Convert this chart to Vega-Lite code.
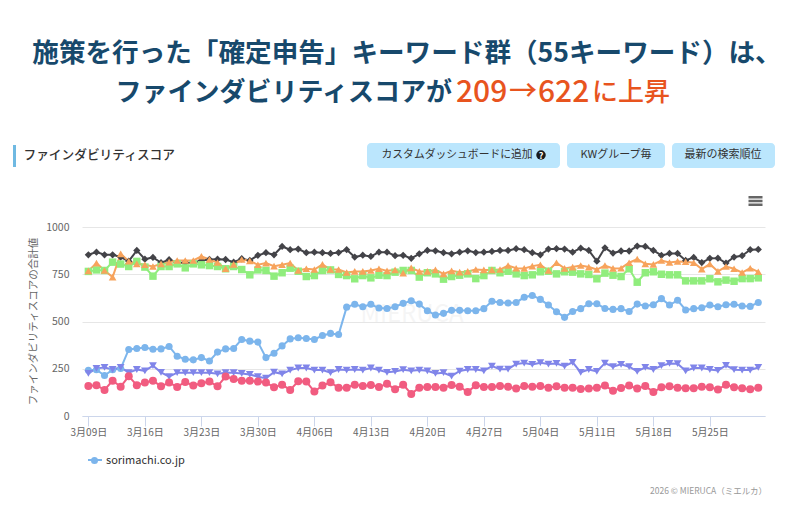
{"$schema":"https://vega.github.io/schema/vega-lite/v6.json","width":683,"height":189,"autosize":{"type":"none"},"padding":{"left":82,"top":227,"right":35,"bottom":94},"background":"white","config":{"font":"Noto Sans CJK JP","view":{"stroke":null}},
"layer":[
{"data":{"values":[{"t":"施策を行った「確定申告」キーワード群（55キーワード）は、"}]},"mark":{"type":"text","x":325,"y":-173,"align":"center","baseline":"middle","fontSize":26.6,"fontWeight":700,"color":"#17496c"},"encoding":{"text":{"field":"t"}}},
{"data":{"values":[{"t":"ファインダビリティスコアが"}]},"mark":{"type":"text","x":33.5,"y":-134,"align":"left","baseline":"middle","fontSize":26,"fontWeight":700,"color":"#17496c"},"encoding":{"text":{"field":"t"}}},
{"data":{"values":[{"t":"209"}]},"mark":{"type":"text","x":374,"y":-134,"align":"left","baseline":"middle","fontSize":30,"fontWeight":500,"color":"#e8541e"},"encoding":{"text":{"field":"t"}}},
{"data":{"values":[{"t":"→"}]},"mark":{"type":"text","x":427,"y":-134,"align":"left","baseline":"middle","fontSize":28,"fontWeight":500,"color":"#e8541e"},"encoding":{"text":{"field":"t"}}},
{"data":{"values":[{"t":"622"}]},"mark":{"type":"text","x":456,"y":-134,"align":"left","baseline":"middle","fontSize":30,"fontWeight":500,"color":"#e8541e"},"encoding":{"text":{"field":"t"}}},
{"data":{"values":[{"t":"に上昇"}]},"mark":{"type":"text","x":510,"y":-134,"align":"left","baseline":"middle","fontSize":26,"fontWeight":500,"color":"#e8541e"},"encoding":{"text":{"field":"t"}}},
{"data":{"values":[{"t":"header"}]},"mark":{"type":"rect","color":"#6fb9e2"},"encoding":{"x":{"value":-69},"x2":{"value":-66},"y":{"value":-82},"y2":{"value":-60}}},
{"data":{"values":[{"t":"ファインダビリティスコア"}]},"mark":{"type":"text","x":-58.5,"y":-72,"align":"left","baseline":"middle","fontSize":12.7,"fontWeight":500,"color":"#333333"},"encoding":{"text":{"field":"t"}}},
{"data":{"values":[{"t":"b1"}]},"mark":{"type":"rect","color":"#bbe6fd","cornerRadius":4},"encoding":{"x":{"value":285},"x2":{"value":478},"y":{"value":-84},"y2":{"value":-59}}},
{"data":{"values":[{"t":"b2"}]},"mark":{"type":"rect","color":"#bbe6fd","cornerRadius":4},"encoding":{"x":{"value":485},"x2":{"value":583},"y":{"value":-84},"y2":{"value":-59}}},
{"data":{"values":[{"t":"b3"}]},"mark":{"type":"rect","color":"#bbe6fd","cornerRadius":4},"encoding":{"x":{"value":590},"x2":{"value":693},"y":{"value":-84},"y2":{"value":-59}}},
{"data":{"values":[{"t":"カスタムダッシュボードに追加"}]},"mark":{"type":"text","x":299.5,"y":-72,"align":"left","baseline":"middle","fontSize":10.8,"color":"#333333"},"encoding":{"text":{"field":"t"}}},
{"data":{"values":[{"t":"icon"}]},"mark":{"type":"point","filled":true,"shape":"circle","size":90,"x":459,"y":-72,"color":"#1a1a1a","opacity":1},"encoding":{}},
{"data":{"values":[{"t":"?"}]},"mark":{"type":"text","x":459,"y":-71.5,"align":"center","baseline":"middle","fontSize":9,"fontWeight":700,"color":"#ffffff"},"encoding":{"text":{"field":"t"}}},
{"data":{"values":[{"t":"KWグループ毎"}]},"mark":{"type":"text","x":534,"y":-72,"align":"center","baseline":"middle","fontSize":11,"color":"#333333"},"encoding":{"text":{"field":"t"}}},
{"data":{"values":[{"t":"最新の検索順位"}]},"mark":{"type":"text","x":641,"y":-72,"align":"center","baseline":"middle","fontSize":11,"color":"#333333"},"encoding":{"text":{"field":"t"}}},
{"data":{"values":[{"t":"menu"}]},"mark":{"type":"point","filled":true,"opacity":1,"color":"#666666","shape":"M-1,-0.72H1V-0.36H-1Z M-1,-0.18H1V0.18H-1Z M-1,0.36H1V0.72H-1Z","size":196,"x":673.5,"y":-26},"encoding":{}},
{"data":{"values":[{"t":"MIERUCA"}]},"mark":{"type":"text","x":330,"y":88,"align":"center","baseline":"middle","fontSize":24,"color":"#000000","opacity":0.035},"encoding":{"text":{"field":"t"}}},
{"data":{"values":[{"t":"2026 © MIERUCA（ミエルカ）"}]},"mark":{"type":"text","x":685,"y":264,"align":"right","baseline":"middle","fontSize":8.5,"color":"#999999"},"encoding":{"text":{"field":"t"}}},
{"data":{"values":[{"t":"legend line"}]},"mark":{"type":"rect","color":"#7cb5ec"},"encoding":{"x":{"value":6},"x2":{"value":20},"y":{"value":232},"y2":{"value":234}}},
{"data":{"name":"scores"},"mark":{"type":"line","strokeWidth":2,"clip":false},"encoding":{"x":{"field":"d","type":"temporal","scale":{"domain":["2025/03/08 05:00","2025/05/31 20:00"]},"axis":{"title":null,"values":["2025/03/09","2025/03/16","2025/03/23","2025/03/30","2025/04/06","2025/04/13","2025/04/20","2025/04/27","2025/05/04","2025/05/11","2025/05/18","2025/05/25"],"format":"%-m月%d日","grid":false,"domainColor":"#ccd6eb","tickColor":"#ccd6eb","tickSize":10,"labelColor":"#666666","labelFontSize":10,"labelPadding":1,"labelFlush":false,"labelOverlap":false}},"y":{"field":"v","type":"quantitative","scale":{"domain":[0,1000],"nice":false},"axis":{"title":"ファインダビリティスコアの合計値","titleFontSize":10.5,"titleFontWeight":400,"titleColor":"#666666","titleX":-44,"titleY":94,"values":[0,250,500,750,1000],"format":"d","gridColor":"#e6e6e6","domain":false,"ticks":false,"labelColor":"#666666","labelFontSize":10.5,"labelPadding":13}},"color":{"field":"s","type":"nominal","scale":{"domain":["sorimachi.co.jp","b","c","d","e","f"],"range":["#7cb5ec","#434348","#90ed7d","#f7a35c","#8085e9","#f15c80"]},"legend":{"values":["sorimachi.co.jp"],"title":null,"orient":"none","legendX":7,"legendY":228,"symbolSize":196,"symbolStrokeWidth":0,"labelFontSize":11,"labelOffset":6,"labelColor":"#333333","labelFontWeight":400,"symbolOpacity":1,"encode":{"symbols":{"update":{"shape":{"value":"M-0.5,0A0.5,0.5 0 1,1 0.5,0A0.5,0.5 0 1,1 -0.5,0Z"}}}}}}}},
{"data":{"name":"scores"},"mark":{"type":"point","filled":true,"opacity":1,"strokeWidth":0,"clip":false},"encoding":{"x":{"field":"d","type":"temporal"},"y":{"field":"v","type":"quantitative"},"color":{"field":"s","type":"nominal"},"size":{"field":"s","type":"nominal","scale":{"domain":["sorimachi.co.jp","b","c","d","e","f"],"range":[50,64,52,64,64,50]},"legend":null},"shape":{"field":"s","type":"nominal","scale":{"domain":["sorimachi.co.jp","b","c","d","e","f"],"range":["circle","diamond","square","triangle-up","triangle-down","circle"]},"legend":null}}}
],
"datasets":{"scores":[
{"d":"2025/03/09","s":"sorimachi.co.jp","v":242},{"d":"2025/03/10","s":"sorimachi.co.jp","v":245},{"d":"2025/03/11","s":"sorimachi.co.jp","v":214},{"d":"2025/03/12","s":"sorimachi.co.jp","v":245},{"d":"2025/03/13","s":"sorimachi.co.jp","v":251},{"d":"2025/03/14","s":"sorimachi.co.jp","v":352},{"d":"2025/03/15","s":"sorimachi.co.jp","v":357},{"d":"2025/03/16","s":"sorimachi.co.jp","v":362},{"d":"2025/03/17","s":"sorimachi.co.jp","v":353},{"d":"2025/03/18","s":"sorimachi.co.jp","v":355},{"d":"2025/03/19","s":"sorimachi.co.jp","v":368},{"d":"2025/03/20","s":"sorimachi.co.jp","v":316},{"d":"2025/03/21","s":"sorimachi.co.jp","v":300},{"d":"2025/03/22","s":"sorimachi.co.jp","v":297},{"d":"2025/03/23","s":"sorimachi.co.jp","v":309},{"d":"2025/03/24","s":"sorimachi.co.jp","v":291},{"d":"2025/03/25","s":"sorimachi.co.jp","v":338},{"d":"2025/03/26","s":"sorimachi.co.jp","v":355},{"d":"2025/03/27","s":"sorimachi.co.jp","v":357},{"d":"2025/03/28","s":"sorimachi.co.jp","v":405},{"d":"2025/03/29","s":"sorimachi.co.jp","v":396},{"d":"2025/03/30","s":"sorimachi.co.jp","v":391},{"d":"2025/03/31","s":"sorimachi.co.jp","v":309},{"d":"2025/04/01","s":"sorimachi.co.jp","v":332},{"d":"2025/04/02","s":"sorimachi.co.jp","v":371},{"d":"2025/04/03","s":"sorimachi.co.jp","v":408},{"d":"2025/04/04","s":"sorimachi.co.jp","v":414},{"d":"2025/04/05","s":"sorimachi.co.jp","v":410},{"d":"2025/04/06","s":"sorimachi.co.jp","v":405},{"d":"2025/04/07","s":"sorimachi.co.jp","v":426},{"d":"2025/04/08","s":"sorimachi.co.jp","v":437},{"d":"2025/04/09","s":"sorimachi.co.jp","v":431},{"d":"2025/04/10","s":"sorimachi.co.jp","v":576},{"d":"2025/04/11","s":"sorimachi.co.jp","v":591},{"d":"2025/04/12","s":"sorimachi.co.jp","v":578},{"d":"2025/04/13","s":"sorimachi.co.jp","v":591},{"d":"2025/04/14","s":"sorimachi.co.jp","v":571},{"d":"2025/04/15","s":"sorimachi.co.jp","v":569},{"d":"2025/04/16","s":"sorimachi.co.jp","v":578},{"d":"2025/04/17","s":"sorimachi.co.jp","v":596},{"d":"2025/04/18","s":"sorimachi.co.jp","v":610},{"d":"2025/04/19","s":"sorimachi.co.jp","v":592},{"d":"2025/04/20","s":"sorimachi.co.jp","v":557},{"d":"2025/04/21","s":"sorimachi.co.jp","v":534},{"d":"2025/04/22","s":"sorimachi.co.jp","v":543},{"d":"2025/04/23","s":"sorimachi.co.jp","v":559},{"d":"2025/04/24","s":"sorimachi.co.jp","v":559},{"d":"2025/04/25","s":"sorimachi.co.jp","v":557},{"d":"2025/04/26","s":"sorimachi.co.jp","v":557},{"d":"2025/04/27","s":"sorimachi.co.jp","v":568},{"d":"2025/04/28","s":"sorimachi.co.jp","v":607},{"d":"2025/04/29","s":"sorimachi.co.jp","v":601},{"d":"2025/04/30","s":"sorimachi.co.jp","v":598},{"d":"2025/05/01","s":"sorimachi.co.jp","v":601},{"d":"2025/05/02","s":"sorimachi.co.jp","v":628},{"d":"2025/05/03","s":"sorimachi.co.jp","v":638},{"d":"2025/05/04","s":"sorimachi.co.jp","v":617},{"d":"2025/05/05","s":"sorimachi.co.jp","v":587},{"d":"2025/05/06","s":"sorimachi.co.jp","v":552},{"d":"2025/05/07","s":"sorimachi.co.jp","v":522},{"d":"2025/05/08","s":"sorimachi.co.jp","v":553},{"d":"2025/05/09","s":"sorimachi.co.jp","v":568},{"d":"2025/05/10","s":"sorimachi.co.jp","v":594},{"d":"2025/05/11","s":"sorimachi.co.jp","v":594},{"d":"2025/05/12","s":"sorimachi.co.jp","v":569},{"d":"2025/05/13","s":"sorimachi.co.jp","v":564},{"d":"2025/05/14","s":"sorimachi.co.jp","v":568},{"d":"2025/05/15","s":"sorimachi.co.jp","v":553},{"d":"2025/05/16","s":"sorimachi.co.jp","v":592},{"d":"2025/05/17","s":"sorimachi.co.jp","v":582},{"d":"2025/05/18","s":"sorimachi.co.jp","v":589},{"d":"2025/05/19","s":"sorimachi.co.jp","v":621},{"d":"2025/05/20","s":"sorimachi.co.jp","v":587},{"d":"2025/05/21","s":"sorimachi.co.jp","v":612},{"d":"2025/05/22","s":"sorimachi.co.jp","v":561},{"d":"2025/05/23","s":"sorimachi.co.jp","v":568},{"d":"2025/05/24","s":"sorimachi.co.jp","v":573},{"d":"2025/05/25","s":"sorimachi.co.jp","v":587},{"d":"2025/05/26","s":"sorimachi.co.jp","v":578},{"d":"2025/05/27","s":"sorimachi.co.jp","v":589},{"d":"2025/05/28","s":"sorimachi.co.jp","v":591},{"d":"2025/05/29","s":"sorimachi.co.jp","v":582},{"d":"2025/05/30","s":"sorimachi.co.jp","v":580},{"d":"2025/05/31","s":"sorimachi.co.jp","v":601},
{"d":"2025/03/09","s":"b","v":853},{"d":"2025/03/10","s":"b","v":867},{"d":"2025/03/11","s":"b","v":853},{"d":"2025/03/12","s":"b","v":853},{"d":"2025/03/13","s":"b","v":841},{"d":"2025/03/14","s":"b","v":819},{"d":"2025/03/15","s":"b","v":876},{"d":"2025/03/16","s":"b","v":830},{"d":"2025/03/17","s":"b","v":839},{"d":"2025/03/18","s":"b","v":811},{"d":"2025/03/19","s":"b","v":827},{"d":"2025/03/20","s":"b","v":811},{"d":"2025/03/21","s":"b","v":811},{"d":"2025/03/22","s":"b","v":811},{"d":"2025/03/23","s":"b","v":823},{"d":"2025/03/24","s":"b","v":828},{"d":"2025/03/25","s":"b","v":830},{"d":"2025/03/26","s":"b","v":828},{"d":"2025/03/27","s":"b","v":814},{"d":"2025/03/28","s":"b","v":832},{"d":"2025/03/29","s":"b","v":823},{"d":"2025/03/30","s":"b","v":850},{"d":"2025/03/31","s":"b","v":864},{"d":"2025/04/01","s":"b","v":853},{"d":"2025/04/02","s":"b","v":897},{"d":"2025/04/03","s":"b","v":880},{"d":"2025/04/04","s":"b","v":883},{"d":"2025/04/05","s":"b","v":864},{"d":"2025/04/06","s":"b","v":867},{"d":"2025/04/07","s":"b","v":864},{"d":"2025/04/08","s":"b","v":860},{"d":"2025/04/09","s":"b","v":865},{"d":"2025/04/10","s":"b","v":880},{"d":"2025/04/11","s":"b","v":841},{"d":"2025/04/12","s":"b","v":851},{"d":"2025/04/13","s":"b","v":844},{"d":"2025/04/14","s":"b","v":867},{"d":"2025/04/15","s":"b","v":867},{"d":"2025/04/16","s":"b","v":848},{"d":"2025/04/17","s":"b","v":850},{"d":"2025/04/18","s":"b","v":834},{"d":"2025/04/19","s":"b","v":858},{"d":"2025/04/20","s":"b","v":876},{"d":"2025/04/21","s":"b","v":874},{"d":"2025/04/22","s":"b","v":864},{"d":"2025/04/23","s":"b","v":858},{"d":"2025/04/24","s":"b","v":867},{"d":"2025/04/25","s":"b","v":874},{"d":"2025/04/26","s":"b","v":865},{"d":"2025/04/27","s":"b","v":867},{"d":"2025/04/28","s":"b","v":871},{"d":"2025/04/29","s":"b","v":876},{"d":"2025/04/30","s":"b","v":876},{"d":"2025/05/01","s":"b","v":885},{"d":"2025/05/02","s":"b","v":880},{"d":"2025/05/03","s":"b","v":864},{"d":"2025/05/04","s":"b","v":853},{"d":"2025/05/05","s":"b","v":883},{"d":"2025/05/06","s":"b","v":885},{"d":"2025/05/07","s":"b","v":883},{"d":"2025/05/08","s":"b","v":867},{"d":"2025/05/09","s":"b","v":888},{"d":"2025/05/10","s":"b","v":876},{"d":"2025/05/11","s":"b","v":819},{"d":"2025/05/12","s":"b","v":890},{"d":"2025/05/13","s":"b","v":862},{"d":"2025/05/14","s":"b","v":873},{"d":"2025/05/15","s":"b","v":873},{"d":"2025/05/16","s":"b","v":899},{"d":"2025/05/17","s":"b","v":897},{"d":"2025/05/18","s":"b","v":876},{"d":"2025/05/19","s":"b","v":850},{"d":"2025/05/20","s":"b","v":860},{"d":"2025/05/21","s":"b","v":860},{"d":"2025/05/22","s":"b","v":823},{"d":"2025/05/23","s":"b","v":839},{"d":"2025/05/24","s":"b","v":812},{"d":"2025/05/25","s":"b","v":834},{"d":"2025/05/26","s":"b","v":835},{"d":"2025/05/27","s":"b","v":809},{"d":"2025/05/28","s":"b","v":841},{"d":"2025/05/29","s":"b","v":848},{"d":"2025/05/30","s":"b","v":880},{"d":"2025/05/31","s":"b","v":881},
{"d":"2025/03/09","s":"c","v":765},{"d":"2025/03/10","s":"c","v":773},{"d":"2025/03/11","s":"c","v":770},{"d":"2025/03/12","s":"c","v":814},{"d":"2025/03/13","s":"c","v":804},{"d":"2025/03/14","s":"c","v":791},{"d":"2025/03/15","s":"c","v":818},{"d":"2025/03/16","s":"c","v":788},{"d":"2025/03/17","s":"c","v":740},{"d":"2025/03/18","s":"c","v":791},{"d":"2025/03/19","s":"c","v":791},{"d":"2025/03/20","s":"c","v":805},{"d":"2025/03/21","s":"c","v":784},{"d":"2025/03/22","s":"c","v":805},{"d":"2025/03/23","s":"c","v":800},{"d":"2025/03/24","s":"c","v":796},{"d":"2025/03/25","s":"c","v":791},{"d":"2025/03/26","s":"c","v":779},{"d":"2025/03/27","s":"c","v":791},{"d":"2025/03/28","s":"c","v":775},{"d":"2025/03/29","s":"c","v":747},{"d":"2025/03/30","s":"c","v":773},{"d":"2025/03/31","s":"c","v":770},{"d":"2025/04/01","s":"c","v":740},{"d":"2025/04/02","s":"c","v":758},{"d":"2025/04/03","s":"c","v":782},{"d":"2025/04/04","s":"c","v":766},{"d":"2025/04/05","s":"c","v":738},{"d":"2025/04/06","s":"c","v":743},{"d":"2025/04/07","s":"c","v":770},{"d":"2025/04/08","s":"c","v":773},{"d":"2025/04/09","s":"c","v":749},{"d":"2025/04/10","s":"c","v":743},{"d":"2025/04/11","s":"c","v":726},{"d":"2025/04/12","s":"c","v":743},{"d":"2025/04/13","s":"c","v":731},{"d":"2025/04/14","s":"c","v":745},{"d":"2025/04/15","s":"c","v":743},{"d":"2025/04/16","s":"c","v":761},{"d":"2025/04/17","s":"c","v":770},{"d":"2025/04/18","s":"c","v":770},{"d":"2025/04/19","s":"c","v":735},{"d":"2025/04/20","s":"c","v":758},{"d":"2025/04/21","s":"c","v":752},{"d":"2025/04/22","s":"c","v":724},{"d":"2025/04/23","s":"c","v":738},{"d":"2025/04/24","s":"c","v":745},{"d":"2025/04/25","s":"c","v":752},{"d":"2025/04/26","s":"c","v":727},{"d":"2025/04/27","s":"c","v":743},{"d":"2025/04/28","s":"c","v":770},{"d":"2025/04/29","s":"c","v":758},{"d":"2025/04/30","s":"c","v":766},{"d":"2025/05/01","s":"c","v":752},{"d":"2025/05/02","s":"c","v":743},{"d":"2025/05/03","s":"c","v":747},{"d":"2025/05/04","s":"c","v":763},{"d":"2025/05/05","s":"c","v":766},{"d":"2025/05/06","s":"c","v":752},{"d":"2025/05/07","s":"c","v":763},{"d":"2025/05/08","s":"c","v":761},{"d":"2025/05/09","s":"c","v":752},{"d":"2025/05/10","s":"c","v":749},{"d":"2025/05/11","s":"c","v":726},{"d":"2025/05/12","s":"c","v":756},{"d":"2025/05/13","s":"c","v":745},{"d":"2025/05/14","s":"c","v":738},{"d":"2025/05/15","s":"c","v":779},{"d":"2025/05/16","s":"c","v":708},{"d":"2025/05/17","s":"c","v":758},{"d":"2025/05/18","s":"c","v":763},{"d":"2025/05/19","s":"c","v":750},{"d":"2025/05/20","s":"c","v":747},{"d":"2025/05/21","s":"c","v":747},{"d":"2025/05/22","s":"c","v":715},{"d":"2025/05/23","s":"c","v":715},{"d":"2025/05/24","s":"c","v":715},{"d":"2025/05/25","s":"c","v":726},{"d":"2025/05/26","s":"c","v":710},{"d":"2025/05/27","s":"c","v":719},{"d":"2025/05/28","s":"c","v":713},{"d":"2025/05/29","s":"c","v":727},{"d":"2025/05/30","s":"c","v":727},{"d":"2025/05/31","s":"c","v":731},
{"d":"2025/03/09","s":"d","v":768},{"d":"2025/03/10","s":"d","v":809},{"d":"2025/03/11","s":"d","v":770},{"d":"2025/03/12","s":"d","v":735},{"d":"2025/03/13","s":"d","v":858},{"d":"2025/03/14","s":"d","v":819},{"d":"2025/03/15","s":"d","v":805},{"d":"2025/03/16","s":"d","v":800},{"d":"2025/03/17","s":"d","v":791},{"d":"2025/03/18","s":"d","v":805},{"d":"2025/03/19","s":"d","v":814},{"d":"2025/03/20","s":"d","v":823},{"d":"2025/03/21","s":"d","v":823},{"d":"2025/03/22","s":"d","v":823},{"d":"2025/03/23","s":"d","v":845},{"d":"2025/03/24","s":"d","v":828},{"d":"2025/03/25","s":"d","v":812},{"d":"2025/03/26","s":"d","v":779},{"d":"2025/03/27","s":"d","v":802},{"d":"2025/03/28","s":"d","v":828},{"d":"2025/03/29","s":"d","v":821},{"d":"2025/03/30","s":"d","v":800},{"d":"2025/03/31","s":"d","v":809},{"d":"2025/04/01","s":"d","v":793},{"d":"2025/04/02","s":"d","v":800},{"d":"2025/04/03","s":"d","v":809},{"d":"2025/04/04","s":"d","v":770},{"d":"2025/04/05","s":"d","v":779},{"d":"2025/04/06","s":"d","v":775},{"d":"2025/04/07","s":"d","v":802},{"d":"2025/04/08","s":"d","v":775},{"d":"2025/04/09","s":"d","v":775},{"d":"2025/04/10","s":"d","v":759},{"d":"2025/04/11","s":"d","v":765},{"d":"2025/04/12","s":"d","v":765},{"d":"2025/04/13","s":"d","v":770},{"d":"2025/04/14","s":"d","v":779},{"d":"2025/04/15","s":"d","v":768},{"d":"2025/04/16","s":"d","v":773},{"d":"2025/04/17","s":"d","v":756},{"d":"2025/04/18","s":"d","v":784},{"d":"2025/04/19","s":"d","v":765},{"d":"2025/04/20","s":"d","v":765},{"d":"2025/04/21","s":"d","v":773},{"d":"2025/04/22","s":"d","v":752},{"d":"2025/04/23","s":"d","v":768},{"d":"2025/04/24","s":"d","v":761},{"d":"2025/04/25","s":"d","v":765},{"d":"2025/04/26","s":"d","v":775},{"d":"2025/04/27","s":"d","v":773},{"d":"2025/04/28","s":"d","v":773},{"d":"2025/04/29","s":"d","v":775},{"d":"2025/04/30","s":"d","v":796},{"d":"2025/05/01","s":"d","v":782},{"d":"2025/05/02","s":"d","v":781},{"d":"2025/05/03","s":"d","v":793},{"d":"2025/05/04","s":"d","v":800},{"d":"2025/05/05","s":"d","v":770},{"d":"2025/05/06","s":"d","v":811},{"d":"2025/05/07","s":"d","v":781},{"d":"2025/05/08","s":"d","v":788},{"d":"2025/05/09","s":"d","v":796},{"d":"2025/05/10","s":"d","v":788},{"d":"2025/05/11","s":"d","v":775},{"d":"2025/05/12","s":"d","v":796},{"d":"2025/05/13","s":"d","v":781},{"d":"2025/05/14","s":"d","v":782},{"d":"2025/05/15","s":"d","v":811},{"d":"2025/05/16","s":"d","v":830},{"d":"2025/05/17","s":"d","v":805},{"d":"2025/05/18","s":"d","v":802},{"d":"2025/05/19","s":"d","v":823},{"d":"2025/05/20","s":"d","v":812},{"d":"2025/05/21","s":"d","v":818},{"d":"2025/05/22","s":"d","v":816},{"d":"2025/05/23","s":"d","v":811},{"d":"2025/05/24","s":"d","v":777},{"d":"2025/05/25","s":"d","v":804},{"d":"2025/05/26","s":"d","v":765},{"d":"2025/05/27","s":"d","v":791},{"d":"2025/05/28","s":"d","v":779},{"d":"2025/05/29","s":"d","v":759},{"d":"2025/05/30","s":"d","v":782},{"d":"2025/05/31","s":"d","v":763},
{"d":"2025/03/09","s":"e","v":225},{"d":"2025/03/10","s":"e","v":252},{"d":"2025/03/11","s":"e","v":257},{"d":"2025/03/12","s":"e","v":246},{"d":"2025/03/13","s":"e","v":257},{"d":"2025/03/14","s":"e","v":229},{"d":"2025/03/15","s":"e","v":246},{"d":"2025/03/16","s":"e","v":239},{"d":"2025/03/17","s":"e","v":266},{"d":"2025/03/18","s":"e","v":231},{"d":"2025/03/19","s":"e","v":208},{"d":"2025/03/20","s":"e","v":229},{"d":"2025/03/21","s":"e","v":229},{"d":"2025/03/22","s":"e","v":229},{"d":"2025/03/23","s":"e","v":229},{"d":"2025/03/24","s":"e","v":229},{"d":"2025/03/25","s":"e","v":223},{"d":"2025/03/26","s":"e","v":229},{"d":"2025/03/27","s":"e","v":229},{"d":"2025/03/28","s":"e","v":225},{"d":"2025/03/29","s":"e","v":220},{"d":"2025/03/30","s":"e","v":208},{"d":"2025/03/31","s":"e","v":200},{"d":"2025/04/01","s":"e","v":232},{"d":"2025/04/02","s":"e","v":223},{"d":"2025/04/03","s":"e","v":243},{"d":"2025/04/04","s":"e","v":254},{"d":"2025/04/05","s":"e","v":254},{"d":"2025/04/06","s":"e","v":243},{"d":"2025/04/07","s":"e","v":243},{"d":"2025/04/08","s":"e","v":229},{"d":"2025/04/09","s":"e","v":246},{"d":"2025/04/10","s":"e","v":243},{"d":"2025/04/11","s":"e","v":246},{"d":"2025/04/12","s":"e","v":243},{"d":"2025/04/13","s":"e","v":254},{"d":"2025/04/14","s":"e","v":243},{"d":"2025/04/15","s":"e","v":231},{"d":"2025/04/16","s":"e","v":236},{"d":"2025/04/17","s":"e","v":245},{"d":"2025/04/18","s":"e","v":239},{"d":"2025/04/19","s":"e","v":243},{"d":"2025/04/20","s":"e","v":239},{"d":"2025/04/21","s":"e","v":225},{"d":"2025/04/22","s":"e","v":229},{"d":"2025/04/23","s":"e","v":211},{"d":"2025/04/24","s":"e","v":238},{"d":"2025/04/25","s":"e","v":246},{"d":"2025/04/26","s":"e","v":246},{"d":"2025/04/27","s":"e","v":239},{"d":"2025/04/28","s":"e","v":264},{"d":"2025/04/29","s":"e","v":248},{"d":"2025/04/30","s":"e","v":248},{"d":"2025/05/01","s":"e","v":275},{"d":"2025/05/02","s":"e","v":280},{"d":"2025/05/03","s":"e","v":273},{"d":"2025/05/04","s":"e","v":282},{"d":"2025/05/05","s":"e","v":275},{"d":"2025/05/06","s":"e","v":278},{"d":"2025/05/07","s":"e","v":264},{"d":"2025/05/08","s":"e","v":284},{"d":"2025/05/09","s":"e","v":231},{"d":"2025/05/10","s":"e","v":246},{"d":"2025/05/11","s":"e","v":236},{"d":"2025/05/12","s":"e","v":280},{"d":"2025/05/13","s":"e","v":261},{"d":"2025/05/14","s":"e","v":273},{"d":"2025/05/15","s":"e","v":261},{"d":"2025/05/16","s":"e","v":236},{"d":"2025/05/17","s":"e","v":257},{"d":"2025/05/18","s":"e","v":246},{"d":"2025/05/19","s":"e","v":266},{"d":"2025/05/20","s":"e","v":278},{"d":"2025/05/21","s":"e","v":277},{"d":"2025/05/22","s":"e","v":239},{"d":"2025/05/23","s":"e","v":254},{"d":"2025/05/24","s":"e","v":254},{"d":"2025/05/25","s":"e","v":246},{"d":"2025/05/26","s":"e","v":241},{"d":"2025/05/27","s":"e","v":268},{"d":"2025/05/28","s":"e","v":245},{"d":"2025/05/29","s":"e","v":243},{"d":"2025/05/30","s":"e","v":243},{"d":"2025/05/31","s":"e","v":257},
{"d":"2025/03/09","s":"f","v":159},{"d":"2025/03/10","s":"f","v":163},{"d":"2025/03/11","s":"f","v":138},{"d":"2025/03/12","s":"f","v":187},{"d":"2025/03/13","s":"f","v":155},{"d":"2025/03/14","s":"f","v":210},{"d":"2025/03/15","s":"f","v":163},{"d":"2025/03/16","s":"f","v":177},{"d":"2025/03/17","s":"f","v":187},{"d":"2025/03/18","s":"f","v":157},{"d":"2025/03/19","s":"f","v":177},{"d":"2025/03/20","s":"f","v":154},{"d":"2025/03/21","s":"f","v":180},{"d":"2025/03/22","s":"f","v":161},{"d":"2025/03/23","s":"f","v":173},{"d":"2025/03/24","s":"f","v":182},{"d":"2025/03/25","s":"f","v":157},{"d":"2025/03/26","s":"f","v":209},{"d":"2025/03/27","s":"f","v":196},{"d":"2025/03/28","s":"f","v":187},{"d":"2025/03/29","s":"f","v":187},{"d":"2025/03/30","s":"f","v":182},{"d":"2025/03/31","s":"f","v":177},{"d":"2025/04/01","s":"f","v":152},{"d":"2025/04/02","s":"f","v":166},{"d":"2025/04/03","s":"f","v":138},{"d":"2025/04/04","s":"f","v":184},{"d":"2025/04/05","s":"f","v":182},{"d":"2025/04/06","s":"f","v":129},{"d":"2025/04/07","s":"f","v":161},{"d":"2025/04/08","s":"f","v":178},{"d":"2025/04/09","s":"f","v":150},{"d":"2025/04/10","s":"f","v":150},{"d":"2025/04/11","s":"f","v":166},{"d":"2025/04/12","s":"f","v":159},{"d":"2025/04/13","s":"f","v":164},{"d":"2025/04/14","s":"f","v":154},{"d":"2025/04/15","s":"f","v":170},{"d":"2025/04/16","s":"f","v":141},{"d":"2025/04/17","s":"f","v":166},{"d":"2025/04/18","s":"f","v":117},{"d":"2025/04/19","s":"f","v":150},{"d":"2025/04/20","s":"f","v":154},{"d":"2025/04/21","s":"f","v":154},{"d":"2025/04/22","s":"f","v":150},{"d":"2025/04/23","s":"f","v":164},{"d":"2025/04/24","s":"f","v":155},{"d":"2025/04/25","s":"f","v":127},{"d":"2025/04/26","s":"f","v":163},{"d":"2025/04/27","s":"f","v":154},{"d":"2025/04/28","s":"f","v":154},{"d":"2025/04/29","s":"f","v":159},{"d":"2025/04/30","s":"f","v":155},{"d":"2025/05/01","s":"f","v":145},{"d":"2025/05/02","s":"f","v":159},{"d":"2025/05/03","s":"f","v":155},{"d":"2025/05/04","s":"f","v":159},{"d":"2025/05/05","s":"f","v":150},{"d":"2025/05/06","s":"f","v":157},{"d":"2025/05/07","s":"f","v":150},{"d":"2025/05/08","s":"f","v":150},{"d":"2025/05/09","s":"f","v":143},{"d":"2025/05/10","s":"f","v":145},{"d":"2025/05/11","s":"f","v":150},{"d":"2025/05/12","s":"f","v":161},{"d":"2025/05/13","s":"f","v":134},{"d":"2025/05/14","s":"f","v":148},{"d":"2025/05/15","s":"f","v":161},{"d":"2025/05/16","s":"f","v":145},{"d":"2025/05/17","s":"f","v":159},{"d":"2025/05/18","s":"f","v":127},{"d":"2025/05/19","s":"f","v":152},{"d":"2025/05/20","s":"f","v":157},{"d":"2025/05/21","s":"f","v":150},{"d":"2025/05/22","s":"f","v":147},{"d":"2025/05/23","s":"f","v":147},{"d":"2025/05/24","s":"f","v":155},{"d":"2025/05/25","s":"f","v":152},{"d":"2025/05/26","s":"f","v":140},{"d":"2025/05/27","s":"f","v":166},{"d":"2025/05/28","s":"f","v":152},{"d":"2025/05/29","s":"f","v":147},{"d":"2025/05/30","s":"f","v":141},{"d":"2025/05/31","s":"f","v":150}
]}}
